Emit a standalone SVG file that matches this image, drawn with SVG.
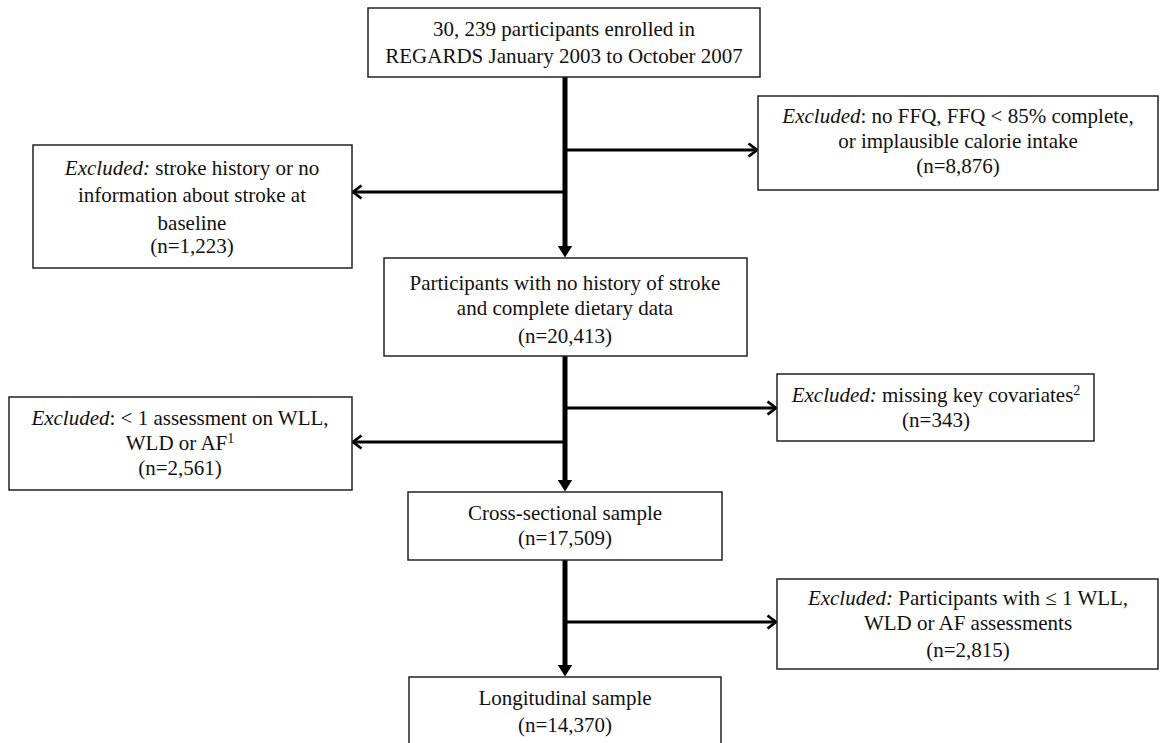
<svg xmlns="http://www.w3.org/2000/svg" width="1160" height="743" viewBox="0 0 1160 743">
<style>
.box{fill:#fff;stroke:#222;stroke-width:1.5}
text{font-family:"Liberation Serif","Times New Roman",serif;font-size:21px;fill:#111;text-anchor:middle}
.it{font-style:italic}
.main{stroke:#000;stroke-width:5;fill:none}
.side{stroke:#000;stroke-width:3;fill:none}
</style>
<defs>
<marker id="tri" markerUnits="userSpaceOnUse" markerWidth="12" markerHeight="15" viewBox="0 0 12 15" refX="0.5" refY="7.5" orient="auto">
<path d="M0,0 L12,7.5 L0,15 z" fill="#000"/>
</marker>
<marker id="chev" markerUnits="userSpaceOnUse" markerWidth="12" markerHeight="16" viewBox="0 0 12 16" refX="10.5" refY="8" orient="auto">
<path d="M2,1.5 L10.5,8 L2,14.5" fill="none" stroke="#000" stroke-width="2.8"/>
</marker>
</defs>
<rect width="1160" height="743" fill="#fff"/>
<g id="connectors">
<path class="main" d="M565,77 V246" marker-end="url(#tri)"/>
<path class="main" d="M565,356 V480" marker-end="url(#tri)"/>
<path class="main" d="M565,560 V665" marker-end="url(#tri)"/>
<path class="side" d="M565,150 H757" marker-end="url(#chev)"/>
<path class="side" d="M565,192 H353" marker-end="url(#chev)"/>
<path class="side" d="M565,408 H776" marker-end="url(#chev)"/>
<path class="side" d="M565,442 H353" marker-end="url(#chev)"/>
<path class="side" d="M565,622 H776" marker-end="url(#chev)"/>
</g>
<g id="enrolled">
<rect class="box" x="368" y="8" width="392" height="69"/>
<text x="564" y="36">30, 239 participants enrolled in</text>
<text x="564" y="63">REGARDS January 2003 to October 2007</text>
</g>
<g id="excl-ffq">
<rect class="box" x="758" y="96" width="400" height="94"/>
<text x="958" y="123"><tspan class="it">Excluded</tspan>: no FFQ, FFQ &lt; 85% complete,</text>
<text x="958" y="148">or implausible calorie intake</text>
<text x="958" y="173">(n=8,876)</text>
</g>
<g id="excl-stroke">
<rect class="box" x="33" y="145" width="319" height="123"/>
<text x="192" y="175"><tspan class="it">Excluded:</tspan> stroke history or no</text>
<text x="192" y="202">information about stroke at</text>
<text x="192" y="230">baseline</text>
<text x="192" y="253">(n=1,223)</text>
</g>
<g id="no-stroke">
<rect class="box" x="384" y="258" width="363" height="98"/>
<text x="565" y="290">Participants with no history of stroke</text>
<text x="565" y="315">and complete dietary data</text>
<text x="565" y="343">(n=20,413)</text>
</g>
<g id="excl-covariates">
<rect class="box" x="777" y="374" width="317" height="67"/>
<text x="936" y="402"><tspan class="it">Excluded:</tspan> missing key covariates<tspan font-size="14" dy="-7">2</tspan></text>
<text x="936" y="427">(n=343)</text>
</g>
<g id="excl-assessment">
<rect class="box" x="9" y="397" width="343" height="93"/>
<text x="180" y="425"><tspan class="it">Excluded</tspan>: &lt; 1 assessment on WLL,</text>
<text x="180" y="450">WLD or AF<tspan font-size="14" dy="-7">1</tspan></text>
<text x="180" y="475">(n=2,561)</text>
</g>
<g id="cross-sectional">
<rect class="box" x="408" y="492" width="314" height="68"/>
<text x="565" y="520">Cross-sectional sample</text>
<text x="565" y="545">(n=17,509)</text>
</g>
<g id="excl-longitudinal">
<rect class="box" x="777" y="579" width="381" height="90"/>
<text x="968" y="605"><tspan class="it">Excluded:</tspan> Participants with ≤ 1 WLL,</text>
<text x="968" y="630">WLD or AF assessments</text>
<text x="968" y="657">(n=2,815)</text>
</g>
<g id="longitudinal">
<rect class="box" x="409" y="677" width="312" height="80"/>
<text x="565" y="705">Longitudinal sample</text>
<text x="565" y="732">(n=14,370)</text>
</g>
</svg>
